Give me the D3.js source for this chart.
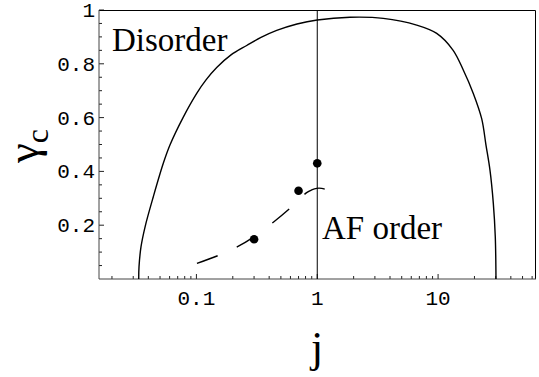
<!DOCTYPE html>
<html>
<head>
<meta charset="utf-8">
<script src="https://cdn.jsdelivr.net/npm/d3@7"></script>
<style>
    body { margin: 0; background: #fff; }
    svg { display: block; }
</style>
</head>
<body>
<div id="chart"></div>
<script>

// phase boundary (solid curve)
var boundaryJ = [0.0333, 0.0335, 0.0348, 0.0376, 0.044, 0.0532, 0.0604, 0.0775, 0.1006, 0.1201, 0.1472, 0.1933, 0.2608, 0.3424, 0.4618, 0.68, 1, 1.866, 3.52, 6.65, 9.74, 13.28, 16.16, 19.56, 22.95, 24.91, 26.88, 28.63, 29.74, 30.14]
var boundaryGamma = [0, 0.046, 0.12, 0.194, 0.306, 0.43, 0.498, 0.6, 0.69, 0.74, 0.786, 0.833, 0.868, 0.898, 0.924, 0.948, 0.963, 0.973, 0.969, 0.944, 0.913, 0.851, 0.777, 0.69, 0.596, 0.498, 0.405, 0.283, 0.157, 0]

// dashed curve
var dashJ = [0.101, 0.151, 0.219, 0.286, 0.438, 0.602, 0.817, 0.899, 0.989, 1.088, 1.18]
var dashGamma = [0.058, 0.087, 0.12, 0.151, 0.213, 0.265, 0.321, 0.331, 0.337, 0.337, 0.333]

// points
var pointJ = [0.3, 0.7, 1]
var pointGamma = [0.148, 0.328, 0.43]

var xTickValues = [0.1, 1, 10]
var xTickLabels = ['0.1', '1', '10']
var yTickValues = [0.2, 0.4, 0.6, 0.8, 1]
var yTickLabels = ['0.2', '0.4', '0.6', '0.8', '1']

var width = 539, height = 377
// note: can't call it "top", that's window.top
var plotLeft = 99, plotRight = 535.5, plotTop = 10.5, plotBottom = 279

var svg = d3.select('#chart')
    .append('svg')
        .attr('width', width)
        .attr('height', height)

var x = d3.scaleLog().domain([1 / 64, 64]).range([plotLeft, plotRight])
var y = d3.scaleLinear().domain([0, 1]).range([plotBottom, plotTop - 0.5])

// minor x ticks: 2..9 times each decade
var xMinor = []
for (var e = -2; e <= 1; e++) {
    for (var m = 2; m <= 9; m++) {
        var v = m * Math.pow(10, e)
        if (v >= 1 / 64 && v <= 64) xMinor.push(v)
    }
}
var yMinor = []
for (var k = 1; k < 20; k++) {
    if (k % 4 !== 0) yMinor.push(k * 0.05)
}

var tickFont = '"Liberation Mono", "Courier New", monospace'
var serif = '"Liberation Serif", "Times New Roman", serif'

// ticks (pointing inward)
function tickLines(cls, values, isX, len) {
    svg.selectAll('line.' + cls)
        .data(values)
        .enter()
        .append('line')
            .attr('class', cls)
            .attr('x1', function(d) { return isX ? x(d) : plotLeft })
            .attr('x2', function(d) { return isX ? x(d) : plotLeft + len })
            .attr('y1', function(d) { return isX ? plotBottom : y(d) })
            .attr('y2', function(d) { return isX ? plotBottom - len : y(d) })
            .style('stroke', '#222')
}
tickLines('xminor', xMinor, true, 3)
tickLines('xmajor', xTickValues, true, 5)
tickLines('yminor', yMinor, false, 3)
tickLines('ymajor', yTickValues, false, 5)

// tick labels
svg.selectAll('text.xlab')
    .data(xTickValues)
    .enter()
    .append('text')
        .attr('class', 'xlab')
        .attr('x', function(d) { return x(d) })
        .attr('y', 305)
        .attr('text-anchor', 'middle')
        .style('font-family', tickFont)
        .style('font-size', '21px')
        .text(function(d, i) { return xTickLabels[i] })

svg.selectAll('text.ylab')
    .data(yTickValues)
    .enter()
    .append('text')
        .attr('class', 'ylab')
        .attr('x', 95)
        .attr('y', function(d) { return y(d) + 7 })
        .attr('text-anchor', 'end')
        .style('font-family', tickFont)
        .style('font-size', '21px')
        .text(function(d, i) { return yTickLabels[i] })

// frame
svg.append('line').attr('x1', plotLeft).attr('x2', plotRight).attr('y1', plotTop).attr('y2', plotTop).style('stroke', '#000')
svg.append('line').attr('x1', plotRight).attr('x2', plotRight).attr('y1', plotTop).attr('y2', plotBottom).style('stroke', '#000')
svg.append('line').attr('x1', plotLeft).attr('x2', plotRight + 0.5).attr('y1', plotBottom).attr('y2', plotBottom).style('stroke', '#444')
svg.append('line').attr('x1', plotLeft).attr('x2', plotLeft).attr('y1', plotTop - 0.5).attr('y2', plotBottom).style('stroke', '#444')

// vertical line at j = 1
svg.append('line')
    .attr('x1', x(1)).attr('x2', x(1))
    .attr('y1', plotTop).attr('y2', plotBottom)
    .style('stroke', '#000')

var line = d3.line()
    .x(function(d) { return x(d[0]) })
    .y(function(d) { return y(d[1]) })
    .curve(d3.curveCatmullRom)

svg.append('path')
    .datum(boundaryJ.map(function(j, i) { return [j, boundaryGamma[i]] }))
    .attr('d', line)
    .style('fill', 'none')
    .style('stroke', '#000')
    .style('stroke-width', 1.4)

svg.append('path')
    .datum(dashJ.map(function(j, i) { return [j, dashGamma[i]] }))
    .attr('d', line)
    .style('fill', 'none')
    .style('stroke', '#000')
    .style('stroke-width', 1.4)
    .style('stroke-dasharray', '22,21')

svg.selectAll('circle')
    .data(pointJ)
    .enter()
    .append('circle')
        .attr('cx', function(d) { return x(d) })
        .attr('cy', function(d, i) { return y(pointGamma[i]) })
        .attr('r', 4.3)
        .style('fill', '#000')

// region labels
svg.append('text')
    .attr('x', 112).attr('y', 51)
    .style('font-family', serif)
    .style('font-size', '33px')
    .text('Disorder')

svg.append('text')
    .attr('x', 322).attr('y', 239)
    .style('font-family', serif)
    .style('font-size', '33px')
    .text('AF order')

// axis labels
svg.append('text')
    .attr('x', 317).attr('y', 362)
    .attr('text-anchor', 'middle')
    .style('font-family', serif)
    .style('font-size', '44px')
    .text('j')

var ylab = svg.append('text')
    .attr('transform', 'translate(38,146) rotate(-90)')
    .attr('text-anchor', 'middle')
    .style('font-family', serif)
    .style('font-size', '45px')
ylab.append('tspan').text('γ')
ylab.append('tspan').attr('dy', 10).style('font-size', '32px').text('c')

</script>
</body>
</html>
